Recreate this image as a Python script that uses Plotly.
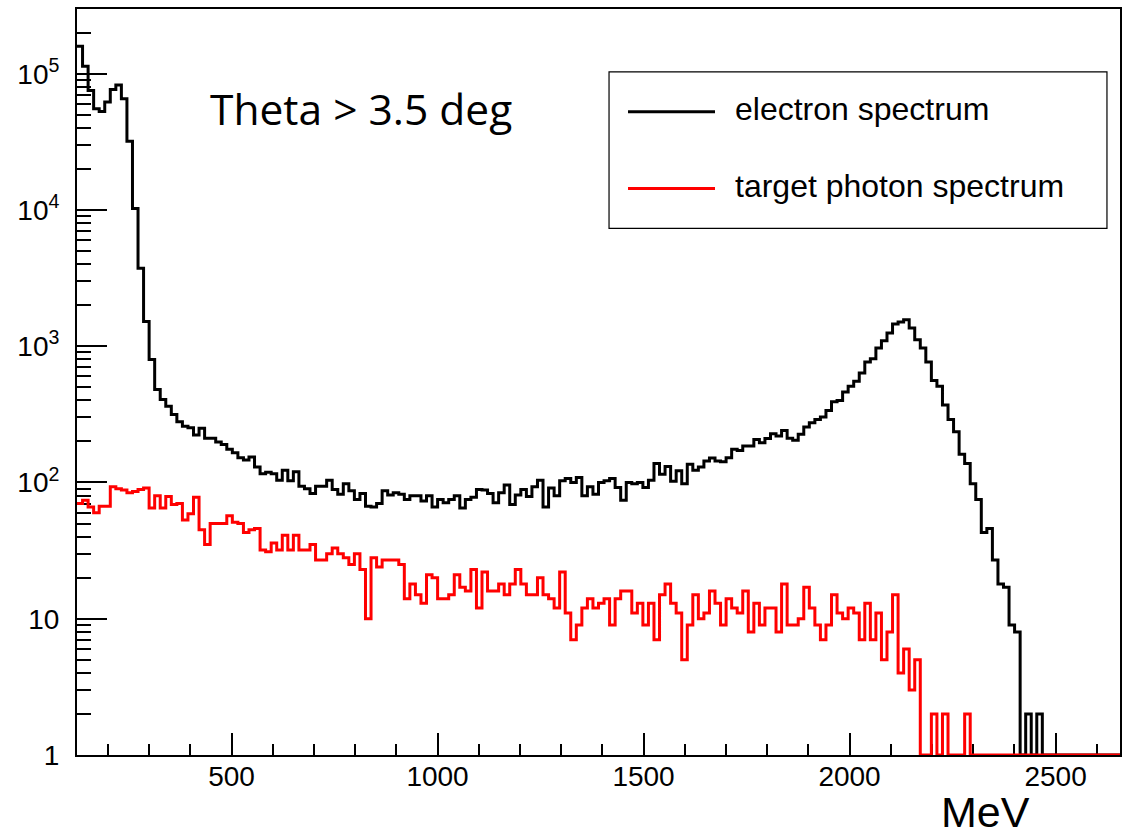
import numpy as np
import plotly.graph_objects as go

# ---------------- data ----------------
bin_start = 125.0      # MeV, lower edge of first bin
bin_width = 13.465     # MeV

electron_counts = [
    159000, 113500, 75300, 55300, 52900, 61900, 76600, 82800, 65400, 31900,
    10260, 3730, 1521, 798, 482, 406, 363, 316, 279, 259,
    252, 223, 250, 211, 211, 198, 190, 175, 165, 152,
    146, 154, 130, 116, 119, 116, 104, 123, 103, 120,
    94, 90, 83, 94, 94, 104, 89, 82, 98, 87,
    75, 83, 67, 66, 70, 87, 81, 84, 82, 75,
    80, 80, 73, 80, 66, 75, 71, 75, 80, 65,
    75, 78, 89, 88, 83, 71, 84, 96, 69, 81,
    89, 79, 93, 104, 66, 91, 80, 103, 107, 100,
    109, 80, 93, 82, 100, 103, 107, 92, 74, 100,
    98, 100, 92, 104, 138, 115, 131, 102, 122, 98,
    136, 123, 130, 144, 151, 144, 142, 152, 175, 172,
    185, 185, 207, 196, 210, 228, 219, 241, 211, 204,
    226, 255, 274, 290, 302, 338, 391, 400, 462, 509,
    553, 637, 767, 811, 970, 1099, 1250, 1455, 1504, 1565,
    1359, 1117, 970, 767, 560, 509, 370, 290, 236, 161,
    138, 98, 75, 43, 46, 27, 18, 17, 9, 8,
    0, 2, 0, 2, 0, 0, 0, 0, 0, 0,
    0, 0, 0, 0, 0, 0, 0, 0,
]

photon_counts = [
    70, 74, 66, 60, 67, 67, 93, 90, 88, 84,
    86, 89, 91, 65, 80, 65, 79, 69, 70, 53,
    59, 78, 45, 35, 50, 50, 50, 57, 51, 50,
    43, 45, 46, 32, 31, 36, 32, 41, 32, 41,
    32, 32, 35, 27, 27, 30, 33, 30, 28, 25,
    30, 23, 10, 28, 24, 27, 27, 27, 25, 14,
    18, 15, 13, 21, 20, 14, 14, 15, 21, 17,
    16, 23, 12, 22, 16, 16, 18, 15, 18, 23,
    18, 15, 15, 20, 15, 14, 12, 22, 11, 7,
    9, 12, 14, 12, 13, 14, 9, 14, 16, 16,
    11, 13, 9, 13, 7, 15, 18, 13, 11, 5,
    9, 15, 10, 11, 16, 13, 9, 14, 12, 11,
    16, 8, 13, 9, 12, 12, 8, 18, 9, 9,
    10, 17, 12, 9, 7, 9, 15, 11, 10, 12,
    11, 7, 13, 7, 11, 5, 8, 15, 4, 6,
    3, 5, 0, 0, 2, 0, 2, 0, 0, 0,
    2, 0, 0, 0, 0, 0, 0, 0, 0, 0,
    0, 0, 0, 0, 0, 0, 0, 0, 0, 0,
    0, 0, 0, 0, 0, 0, 0, 0,
]

series_names = ["electron spectrum", "target photon spectrum"]
series_colors = ["#000000", "#ff0000"]

x_tick_values = [500, 1000, 1500, 2000, 2500]
x_tick_labels = ["500", "1000", "1500", "2000", "2500"]
y_tick_values = [1, 10, 100, 1000, 10000, 100000]
y_tick_labels = ["1", "10", "10<sup>2</sup>", "10<sup>3</sup>",
                 "10<sup>4</sup>", "10<sup>5</sup>"]
x_title = "MeV"
note_text = "Theta > 3.5 deg"

# ---------------- derived ----------------
n_bins = len(electron_counts)
edges = bin_start + bin_width * np.arange(n_bins + 1)
x_max = float(edges[-1])


def step_values(counts):
    # empty bins sit on the floor of the log axis, as in ROOT
    c = np.maximum(np.asarray(counts, dtype=float), 1.0)
    return np.append(c, c[-1])


x_minor = [v for v in range(200, 2700, 100) if v % 500 != 0]
y_minor = [m * 10 ** d for d in range(0, 6) for m in range(2, 10)]

fig = go.Figure()
for counts, name, color in zip([electron_counts, photon_counts], series_names, series_colors):
    fig.add_trace(go.Scatter(
        x=edges, y=step_values(counts), mode="lines", name=name,
        line=dict(color=color, width=3, shape="hv"),
        showlegend=False, hoverinfo="skip",
    ))

axis_font = dict(family="Liberation Sans, Arial, Helvetica, sans-serif", size=28, color="black")

fig.update_xaxes(
    range=[bin_start, x_max], showline=True, linecolor="black", linewidth=2, mirror=True,
    showgrid=False, zeroline=False, ticks="inside", ticklen=22, tickwidth=1.8, tickcolor="black",
    tickmode="array", tickvals=x_tick_values, ticktext=x_tick_labels, tickfont=axis_font,
    ticklabelstandoff=-5, layer="below traces",
    minor=dict(ticks="inside", ticklen=11, tickwidth=1.8, tickcolor="black",
               tickmode="array", tickvals=x_minor, showgrid=False),
)
fig.update_yaxes(
    type="log", range=[0, 5.475], showline=True, linecolor="black", linewidth=2, mirror=True,
    showgrid=False, zeroline=False, ticks="inside", ticklen=30, tickwidth=1.8, tickcolor="black",
    tickmode="array", tickvals=y_tick_values, ticktext=y_tick_labels, tickfont=axis_font,
    ticklabelstandoff=10, layer="below traces",
    minor=dict(ticks="inside", ticklen=14, tickwidth=1.8, tickcolor="black",
               tickmode="array", tickvals=y_minor, showgrid=False),
)

# legend box drawn ROOT-style
shapes = [dict(type="rect", xref="paper", yref="paper", x0=0.5101, x1=0.9875, y0=0.7059, y1=0.9158,
               line=dict(color="black", width=1.2), fillcolor="white", layer="above")]
legend_rows = [0.8623, 0.7594]
annotations = []
for name, color, yy in zip(series_names, series_colors, legend_rows):
    shapes.append(dict(type="line", xref="paper", yref="paper", x0=0.5283, x1=0.6117, y0=yy, y1=yy,
                       line=dict(color=color, width=3), layer="above"))
    annotations.append(dict(text=name, xref="paper", yref="paper", x=0.6290, y=yy + 0.004,
                            xanchor="left", yanchor="middle", showarrow=False,
                            font=dict(family="Liberation Sans, Arial, sans-serif", size=32, color="black")))

annotations.append(dict(text=note_text, xref="paper", yref="paper", x=0.1256, y=0.8663,
                        xanchor="left", yanchor="middle", showarrow=False,
                        font=dict(family="Open Sans, sans-serif", size=42.5, color="black")))
annotations.append(dict(text=x_title, xref="paper", yref="paper", x=0.9156, y=-0.0762,
                        xanchor="right", yanchor="middle", showarrow=False,
                        font=dict(family="Liberation Sans, Arial, sans-serif", size=43, color="black")))

fig.update_layout(
    width=1132, height=838, margin=dict(l=77, r=12, t=7, b=83, pad=0),
    paper_bgcolor="white", plot_bgcolor="white", showlegend=False,
    shapes=shapes, annotations=annotations,
    font=dict(family="Liberation Sans, Arial, sans-serif", color="black"),
)

fig.write_html("out.html")
